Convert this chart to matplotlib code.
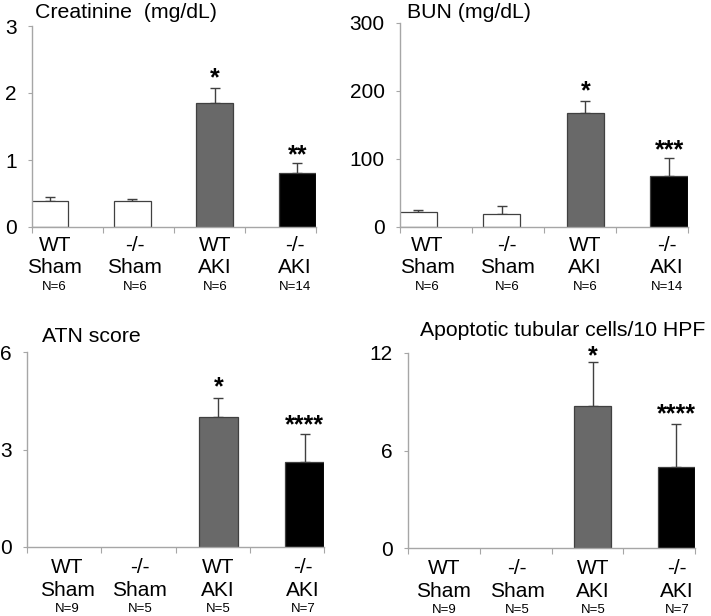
import matplotlib
matplotlib.use("Agg")
import matplotlib.pyplot as plt
import numpy as np

plt.rcParams['font.family'] = ['Liberation Sans', 'DejaVu Sans']

groups = ["WT\nSham", "-/-\nSham", "WT\nAKI", "-/-\nAKI"]
bar_colors = ["white", "white", "#696969", "black"]

# Creatinine
creat_mean = [0.39, 0.39, 1.85, 0.81]
creat_err = [0.06, 0.03, 0.23, 0.14]
creat_n = ["N=6", "N=6", "N=6", "N=14"]
creat_stars = ["", "", "*", "**"]

# BUN
bun_mean = [22.6, 19.2, 168, 74.8]
bun_err = [3, 11, 18, 26]
bun_n = ["N=6", "N=6", "N=6", "N=14"]
bun_stars = ["", "", "*", "***"]

# ATN score
atn_mean = [0, 0, 4.0, 2.62]
atn_err = [0, 0, 0.6, 0.85]
atn_n = ["N=9", "N=5", "N=5", "N=7"]
atn_stars = ["", "", "*", "****"]

# apoptotic cells
apo_mean = [0, 0, 8.75, 5.0]
apo_err = [0, 0, 2.7, 2.62]
apo_n = ["N=9", "N=5", "N=5", "N=7"]
apo_stars = ["", "", "*", "****"]

fig = plt.figure(figsize=(7.11, 6.16), dpi=100)
W, H = 711.0, 616.0

def px_axes(l, t, r, b):
    return fig.add_axes([l / W, 1 - b / H, (r - l) / W, (b - t) / H])

panels = [
    dict(box=(32, 26, 316, 227), mean=creat_mean, err=creat_err, n=creat_n,
         stars=creat_stars, ymax=3, yticks=[0, 1, 2, 3],
         title="Creatinine  (mg/dL)", tpos=(35, 13),
         lab_x=[0.32, 1.45, 2.58, 3.7], star_y=[0, 0, 2.32, 1.17], lab_dy=0),
    dict(box=(400, 23, 688, 227), mean=bun_mean, err=bun_err, n=bun_n,
         stars=bun_stars, ymax=300, yticks=[0, 100, 200, 300],
         title="BUN (mg/dL)", tpos=(407, 12),
         lab_x=[0.375, 1.49, 2.57, 3.71], star_y=[0, 0, 210, 123], lab_dy=0),
    dict(box=(27, 352, 324, 547), mean=atn_mean, err=atn_err, n=atn_n,
         stars=atn_stars, ymax=6, yticks=[0, 3, 6],
         title="ATN score", tpos=(42, 336),
         lab_x=[0.54, 1.52, 2.57, 3.72], star_y=[0, 0, 5.14, 3.96], lab_dy=2),
    dict(box=(408, 353, 695, 548), mean=apo_mean, err=apo_err, n=apo_n,
         stars=apo_stars, ymax=12, yticks=[0, 6, 12],
         title="Apoptotic tubular cells/10 HPF", tpos=(420, 330),
         lab_x=[0.5, 1.52, 2.58, 3.75], star_y=[0, 0, 12.25, 8.65], lab_dy=2),
]

bar_x = np.arange(4) * 1.163 + 0.25
grey = "#a6a6a6"
edge = "#404040"
fs = 15
title_fs = 15.3
star_fs = 18

for p in panels:
    ax = px_axes(*p["box"])
    mean = np.array(p["mean"], dtype=float)
    err = np.array(p["err"], dtype=float)
    show = mean > 0
    ax.bar(bar_x[show], mean[show], width=0.52, color=np.array(bar_colors)[show],
           edgecolor=edge, linewidth=0.9, zorder=2)
    ax.errorbar(bar_x[show], mean[show], yerr=[np.zeros(show.sum()), err[show]],
                fmt="none", ecolor=edge, elinewidth=1.0, capsize=3.5,
                capthick=1.0, zorder=1)
    # asterisks: glyph centre placed at star_y
    for x, s, sy in zip(bar_x, p["stars"], p["star_y"]):
        if s:
            ax.annotate(s, (x, sy), xytext=(0, -0.56 * star_fs),
                        textcoords="offset points", ha="center", va="baseline",
                        fontsize=star_fs, fontweight="bold", annotation_clip=False)
    ax.set_xlim(0, 4)
    ax.set_ylim(0, p["ymax"])
    ax.set_yticks(p["yticks"])
    ax.set_xticks(np.arange(5))
    ax.set_xticklabels([])
    for sp in ["top", "right"]:
        ax.spines[sp].set_visible(False)
    for sp in ["left", "bottom"]:
        ax.spines[sp].set_color(grey)
        ax.spines[sp].set_linewidth(1.0)
    ax.tick_params(axis="y", length=3, color=grey, labelsize=fs, pad=8)
    ax.tick_params(axis="x", length=4, color=grey)
    ax.patch.set_alpha(0)

    for x, g, n in zip(p["lab_x"], groups, p["n"]):
        top, bot = g.split("\n")
        d = p["lab_dy"]
        ax.annotate(top, (x, 0), xycoords=("data", "axes fraction"),
                    xytext=(0, -13 - d), textcoords="offset points",
                    ha="center", va="center", fontsize=fs)
        ax.annotate(bot, (x, 0), xycoords=("data", "axes fraction"),
                    xytext=(0, -29 - d), textcoords="offset points",
                    ha="center", va="center", fontsize=fs)
        ax.annotate(n, (x, 0), xycoords=("data", "axes fraction"),
                    xytext=(0, -43.5 - d * 0.7), textcoords="offset points",
                    ha="center", va="center", fontsize=9.5)

    fig.text(p["tpos"][0] / W, 1 - p["tpos"][1] / H, p["title"],
             ha="left", va="center", fontsize=title_fs)

fig.savefig("out.png", dpi=100)
